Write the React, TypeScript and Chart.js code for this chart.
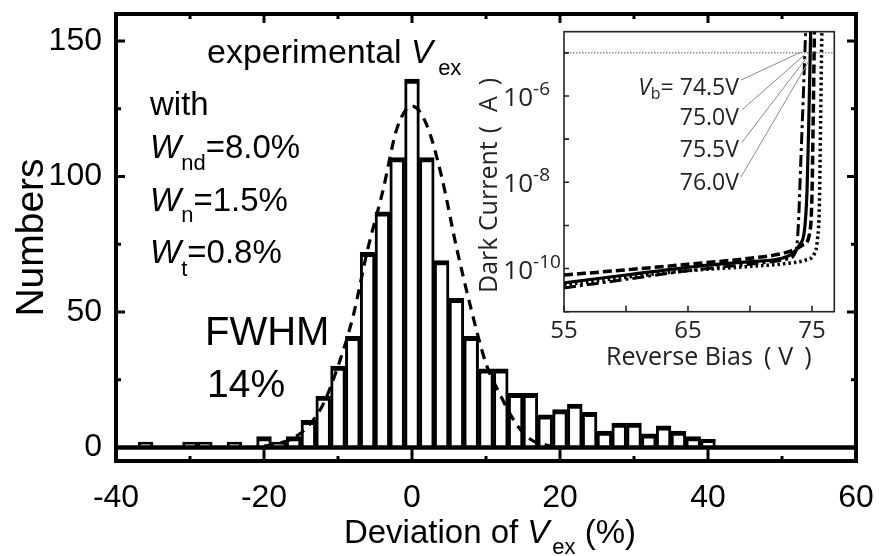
import React, { useEffect, useRef } from 'react';
import { Chart, registerables } from 'chart.js';

Chart.register(...registerables);

// ---------------- main histogram ----------------
const binCenters = [-38, -36, -34, -32, -30, -28, -26, -24, -22, -20, -18, -16, -14, -12, -10, -8, -6, -4, -2, 0, 2, 4, 6, 8, 10, 12, 14, 16, 18, 20, 22, 24, 26, 28, 30, 32, 34, 36, 38, 40];
const binCounts = [0, 2, 0, 0, 2, 2, 0, 2, 0, 4, 2, 4, 10, 19, 30, 41, 72, 87, 107, 136, 107, 69, 55, 41, 29, 29, 20, 20, 12, 14, 16, 13, 6, 9, 9, 5, 8, 6, 4, 3];

const fitX = [-20, -18, -16, -14, -12, -10, -8, -6, -4, -2, 0, 2, 4, 6, 8, 10, 12, 14, 16, 18, 20];
const fitY = [0.5, 1.5, 3.5, 8, 16, 30, 48, 73, 94, 118, 126, 119, 100, 74, 51, 31, 19, 9, 3, 1, 0];

const xTickValues = [-40, -20, 0, 20, 40, 60];
const xMinorTicks = [-30, -10, 10, 30, 50];
const yTickValues = [0, 50, 100, 150];
const yMinorTicks = [25, 75, 125];

// ---------------- inset: dark current ----------------
const biasTicks = [55, 65, 75];
const biasMinorTicks = [60, 70];
const currentTicks = [1e-6, 1e-8, 1e-10];
const currentTickExponents = ['-6', '-8', '-10'];
const currentMinorTicks = [1e-5, 1e-7, 1e-9, 1e-11];

const biasDashDot = [55, 60, 65, 70, 73, 73.7, 73.9, 74.1, 74.3, 74.5];
const currentDashDot = [3.55e-11, 5.62e-11, 8.91e-11, 1.26e-10, 1.66e-10, 2.51e-10, 1e-9, 3.16e-8, 1e-6, 3.98e-5];

const biasSolid = [55, 60, 65, 70, 73, 74.0, 74.4, 74.6, 74.75, 74.9];
const currentSolid = [4.68e-11, 7.08e-11, 1.07e-10, 1.45e-10, 1.91e-10, 3.55e-10, 7.94e-10, 6.31e-9, 3.16e-7, 3.98e-5];

const biasDashed = [55, 60, 65, 70, 73, 74.3, 74.8, 75.0, 75.1, 75.2];
const currentDashed = [7.08e-11, 9.33e-11, 1.26e-10, 1.74e-10, 2.4e-10, 3.55e-10, 6.31e-10, 5.01e-9, 3.16e-7, 3.98e-5];

const biasDotted = [55, 60, 65, 70, 73, 74.5, 75.2, 75.45, 75.6, 75.7, 75.8];
const currentDotted = [4.17e-11, 6.31e-11, 8.91e-11, 1.12e-10, 1.32e-10, 1.58e-10, 2.24e-10, 5.01e-10, 3.16e-9, 3.16e-7, 3.98e-5];

const refCurrent = 1e-5;
const vbLabels = ['74.5V', '75.0V', '75.5V', '76.0V'];
const vbLabelCurrents = [1.054e-6, 2.13e-7, 3.92e-8, 6.64e-9];
const leaderStartBias = [69.27, 69.36, 69.36, 69.27];
const leaderStartCurrent = [2.34e-6, 4.79e-7, 8.51e-8, 1.32e-8];
const leaderEndBias = [74.14, 74.38, 74.55, 74.71];
const leaderEndCurrent = [1.05e-5, 8.91e-6, 7.59e-6, 6.17e-6];

const F = '"Liberation Sans", Arial, Helvetica, sans-serif';
const IF = '"Open Sans", "Noto Sans", sans-serif';

type Seg = { t: string; f: string; dy?: number; dx?: number };

function drawRich(ctx: CanvasRenderingContext2D, segs: Seg[], x: number, y: number, align: 'left' | 'center' | 'right' = 'left') {
  let w = 0;
  for (const s of segs) {
    ctx.font = s.f;
    w += ctx.measureText(s.t).width + (s.dx || 0);
  }
  let cx = align === 'left' ? x : align === 'center' ? x - w / 2 : x - w;
  ctx.textAlign = 'left';
  for (const s of segs) {
    ctx.font = s.f;
    cx += s.dx || 0;
    ctx.fillText(s.t, cx, y + (s.dy || 0));
    cx += ctx.measureText(s.t).width;
  }
}

const mainPlugin = {
  id: 'mainDecor',
  afterDatasetsDraw(chart: any) {
    const { ctx, chartArea: a, scales } = chart;
    const xs = scales.x;
    const ys = scales.y;
    ctx.save();
    ctx.strokeStyle = '#000';
    ctx.lineWidth = 4;
    ctx.strokeRect(a.left, a.top, a.right - a.left, a.bottom - a.top);
    ctx.lineWidth = 3;
    ctx.beginPath();
    const seg = (x1: number, y1: number, x2: number, y2: number) => {
      ctx.moveTo(x1, y1);
      ctx.lineTo(x2, y2);
    };
    xTickValues.forEach((v) => {
      const p = xs.getPixelForValue(v);
      seg(p, a.bottom, p, a.bottom - 12);
      seg(p, a.top, p, a.top + 9);
    });
    xMinorTicks.forEach((v) => {
      const p = xs.getPixelForValue(v);
      seg(p, a.bottom, p, a.bottom - 5);
      seg(p, a.top, p, a.top + 5);
    });
    yTickValues.forEach((v) => {
      const p = ys.getPixelForValue(v);
      seg(a.left, p, a.left + 9, p);
      seg(a.right, p, a.right - 9, p);
    });
    yMinorTicks.forEach((v) => {
      const p = ys.getPixelForValue(v);
      seg(a.left, p, a.left + 5, p);
      seg(a.right, p, a.right - 5, p);
    });
    ctx.stroke();
    ctx.restore();
  },
  afterDraw(chart: any) {
    const { ctx, chartArea: a, scales } = chart;
    const px = (v: number) => scales.x.getPixelForValue(v);
    const py = (v: number) => scales.y.getPixelForValue(v);
    ctx.save();
    ctx.fillStyle = '#000';
    ctx.textBaseline = 'alphabetic';
    drawRich(ctx, [
      { t: 'experimental ', f: `34px ${F}` },
      { t: 'V', f: `italic 33px ${F}` },
      { t: 'ex', f: `22px ${F}`, dy: 12, dx: 5 },
    ], px(-27.7), py(141.8));
    drawRich(ctx, [{ t: 'with', f: `33px ${F}` }], px(-35.4), py(122.7));
    drawRich(ctx, [
      { t: 'W', f: `italic 33px ${F}` },
      { t: 'nd', f: `22px ${F}`, dy: 12 },
      { t: '=8.0%', f: `33px ${F}` },
    ], px(-35.4), py(106.8));
    drawRich(ctx, [
      { t: 'W', f: `italic 33px ${F}` },
      { t: 'n', f: `22px ${F}`, dy: 11 },
      { t: '=1.5%', f: `33px ${F}` },
    ], px(-35.4), py(87.4));
    drawRich(ctx, [
      { t: 'W', f: `italic 33px ${F}` },
      { t: 't', f: `22px ${F}`, dy: 13 },
      { t: '=0.8%', f: `33px ${F}` },
    ], px(-35.4), py(68.0));
    drawRich(ctx, [{ t: 'FWHM', f: `40px ${F}` }], px(-27.97), py(37.8));
    drawRich(ctx, [{ t: '14%', f: `39px ${F}` }], px(-27.7), py(18.75));
    // x axis title
    drawRich(ctx, [
      { t: 'Deviation of ', f: `33px ${F}` },
      { t: 'V', f: `italic 33px ${F}` },
      { t: 'ex', f: `22px ${F}`, dy: 11, dx: 3 },
      { t: ' (%)', f: `33px ${F}` },
    ], (a.left + a.right) / 2 + 4, 543, 'center');
    ctx.restore();
  },
};

const insetPlugin = {
  id: 'insetDecor',
  beforeDatasetsDraw(chart: any) {
    const { ctx, chartArea: a } = chart;
    ctx.save();
    ctx.fillStyle = '#fff';
    ctx.fillRect(a.left, a.top, a.right - a.left, a.bottom - a.top);
    ctx.restore();
  },
  afterDatasetsDraw(chart: any) {
    const { ctx, chartArea: a, scales } = chart;
    const xs = scales.x;
    const ys = scales.y;
    ctx.save();
    ctx.strokeStyle = '#222';
    ctx.lineWidth = 1.6;
    ctx.strokeRect(a.left, a.top, a.right - a.left, a.bottom - a.top);
    ctx.beginPath();
    [...biasTicks, ...biasMinorTicks].forEach((v) => {
      const p = xs.getPixelForValue(v);
      ctx.moveTo(p, a.bottom);
      ctx.lineTo(p, a.bottom - 6);
    });
    [...currentTicks, ...currentMinorTicks].forEach((v) => {
      const p = ys.getPixelForValue(v);
      ctx.moveTo(a.left, p);
      ctx.lineTo(a.left + 5, p);
    });
    ctx.stroke();

    ctx.fillStyle = '#222';
    ctx.textBaseline = 'alphabetic';
    // x tick labels
    ctx.font = `24px ${IF}`;
    ctx.textAlign = 'center';
    biasTicks.forEach((v) => ctx.fillText(String(v), xs.getPixelForValue(v), a.bottom + 26.6));
    // y tick labels with superscripts
    currentTicks.forEach((v, i) => {
      const p = ys.getPixelForValue(v);
      drawRich(ctx, [
        { t: '10', f: `26px ${IF}` },
        { t: currentTickExponents[i], f: `19px ${IF}`, dy: -11 },
      ], a.left - 60.7, p + 10);
    });
    // V_b labels
    vbLabels.forEach((lab, i) => {
      const x = xs.getPixelForValue(69.11);
      const y = ys.getPixelForValue(vbLabelCurrents[i]);
      if (i === 0) {
        drawRich(ctx, [
          { t: 'V', f: `italic 23px ${IF}` },
          { t: 'b', f: `16px ${IF}`, dy: 4 },
          { t: '= ' + lab, f: `23px ${IF}` },
        ], x, y, 'right');
      } else {
        drawRich(ctx, [{ t: lab, f: `23px ${IF}` }], x, y, 'right');
      }
    });
    // axis titles (full-width style bracket spacing)
    drawRich(ctx, [
      { t: 'Reverse Bias', f: `25px ${IF}` },
      { t: '(', f: `25px ${IF}`, dx: 11 },
      { t: 'V', f: `25px ${IF}`, dx: 7 },
      { t: ')', f: `25px ${IF}`, dx: 11 },
    ], a.left + 42, a.bottom + 53.3);
    ctx.save();
    ctx.translate(a.left - 74, a.bottom - 18.7);
    ctx.rotate(-Math.PI / 2);
    ctx.textBaseline = 'middle';
    drawRich(ctx, [
      { t: 'Dark Current', f: `25px ${IF}` },
      { t: '(', f: `25px ${IF}`, dx: 8 },
      { t: 'A', f: `25px ${IF}`, dx: 14 },
      { t: ')', f: `25px ${IF}`, dx: 11 },
    ], 0, 0);
    ctx.restore();
    ctx.restore();
  },
};

function mainConfig(): any {
  return {
    type: 'bar',
    data: {
      datasets: [
        {
          type: 'line',
          label: 'fit',
          data: fitX.map((x, i) => ({ x, y: fitY[i] })),
          borderColor: '#000',
          borderWidth: 3.2,
          borderDash: [10, 7],
          pointRadius: 0,
          cubicInterpolationMode: 'monotone',
          fill: false,
          order: 0,
        },
        {
          type: 'line',
          label: 'zero',
          data: [{ x: xTickValues[0], y: 0 }, { x: xTickValues[xTickValues.length - 1], y: 0 }],
          borderColor: '#000',
          borderWidth: 4.5,
          pointRadius: 0,
          fill: false,
          order: 1,
        },
        {
          type: 'bar',
          label: 'counts',
          data: binCenters.map((x, i) => ({ x, y: binCounts[i] })),
          backgroundColor: '#fff',
          borderColor: '#000',
          borderWidth: { top: 5, left: 3, right: 3, bottom: 0 },
          borderSkipped: false,
          barPercentage: 1,
          categoryPercentage: 1,
          order: 2,
        },
      ],
    },
    options: {
      responsive: false,
      animation: false,
      devicePixelRatio: 1,
      layout: { padding: { left: 0, top: 14, right: 23, bottom: 0 } },
      plugins: { legend: { display: false }, tooltip: { enabled: false } },
      scales: {
        x: {
          type: 'linear',
          min: -40,
          max: 60,
          offset: false,
          grid: { display: false, drawTicks: false, offset: false },
          border: { display: false },
          afterBuildTicks: (s: any) => {
            s.ticks = xTickValues.map((v) => ({ value: v }));
          },
          afterFit: (s: any) => {
            s.height = 95;
            s.paddingLeft = 0;
            s.paddingRight = 0;
          },
          ticks: {
            font: { family: F, size: 32 },
            color: '#000',
            padding: 18,
            maxRotation: 0,
            minRotation: 0,
            autoSkip: false,
          },
        },
        y: {
          type: 'linear',
          min: -5,
          max: 160,
          grid: { display: false, drawTicks: false },
          border: { display: false },
          afterBuildTicks: (s: any) => {
            s.ticks = yTickValues.map((v) => ({ value: v }));
          },
          afterFit: (s: any) => {
            s.width = 116;
            s.paddingTop = 0;
            s.paddingBottom = 0;
          },
          ticks: { font: { family: F, size: 32 }, color: '#000', padding: 14 },
          title: {
            display: true,
            text: 'Numbers',
            color: '#000',
            font: { family: F, size: 39, lineHeight: 1 },
            padding: { top: 13, bottom: 0 },
          },
        },
      },
    },
    plugins: [mainPlugin],
  };
}

function curve(label: string, xs: number[], ys: number[], dash: number[], width: number): any {
  return {
    label,
    data: xs.map((x, i) => ({ x, y: ys[i] })),
    borderColor: '#000',
    borderWidth: width,
    borderDash: dash,
    pointRadius: 0,
    fill: false,
    cubicInterpolationMode: 'monotone',
    clip: 0,
  };
}

function insetConfig(): any {
  const leaders = leaderStartBias.map((b, i) => ({
    label: 'leader' + i,
    data: [
      { x: b, y: leaderStartCurrent[i] },
      { x: leaderEndBias[i], y: leaderEndCurrent[i] },
    ],
    borderColor: '#8a8a8a',
    borderWidth: 1,
    pointRadius: 0,
    fill: false,
    clip: 0,
  }));
  return {
    type: 'line',
    data: {
      datasets: [
        {
          label: 'ref',
          data: [{ x: 55, y: refCurrent }, { x: 76.8, y: refCurrent }],
          borderColor: '#555',
          borderWidth: 1,
          borderDash: [1.5, 1.5],
          pointRadius: 0,
          fill: false,
          clip: 0,
        },
        ...leaders,
        curve('74.5V', biasDashDot, currentDashDot, [12, 4, 3, 4], 3),
        curve('75.0V', biasSolid, currentSolid, [], 3.2),
        curve('75.5V', biasDashed, currentDashed, [9, 4], 3.5),
        curve('76.0V', biasDotted, currentDotted, [2.5, 3], 3.5),
      ],
    },
    options: {
      responsive: false,
      animation: false,
      devicePixelRatio: 1,
      layout: { padding: { left: 0, top: 11.7, right: 15.7, bottom: 0 } },
      plugins: { legend: { display: false }, tooltip: { enabled: false } },
      scales: {
        x: {
          type: 'linear',
          min: 55,
          max: 76.8,
          grid: { display: false, drawTicks: false },
          border: { display: false },
          ticks: { display: false },
          afterFit: (s: any) => {
            s.height = 68.3;
            s.paddingLeft = 0;
            s.paddingRight = 0;
          },
        },
        y: {
          type: 'logarithmic',
          min: 1e-11,
          max: 3.1e-5,
          grid: { display: false, drawTicks: false },
          border: { display: false },
          ticks: { display: false },
          afterFit: (s: any) => {
            s.width = 94;
            s.paddingTop = 0;
            s.paddingBottom = 0;
          },
        },
      },
    },
    plugins: [insetPlugin],
  };
}

export default function App() {
  const mainRef = useRef<HTMLCanvasElement>(null);
  const insetRef = useRef<HTMLCanvasElement>(null);
  useEffect(() => {
    const main = new Chart(mainRef.current as HTMLCanvasElement, mainConfig());
    const inset = new Chart(insetRef.current as HTMLCanvasElement, insetConfig());
    return () => {
      main.destroy();
      inset.destroy();
    };
  }, []);
  return (
    <div style={{ position: 'absolute', left: 0, top: 0, width: 879, height: 556, background: '#fff' }}>
      <canvas ref={mainRef} width={879} height={556} style={{ position: 'absolute', left: 0, top: 0 }} />
      <canvas ref={insetRef} width={380} height={360} style={{ position: 'absolute', left: 470, top: 20 }} />
    </div>
  );
}
